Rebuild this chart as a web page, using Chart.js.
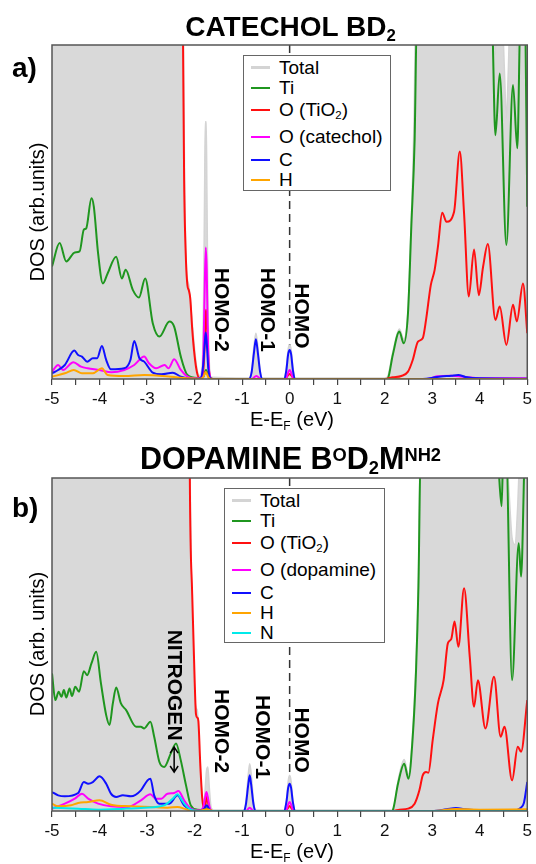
<!DOCTYPE html>
<html>
<head>
    <title>DOS catechol / dopamine</title>
    <script src="https://cdn.jsdelivr.net/npm/chart.js"></script>
    <style>
        body {
            margin: 0;
            background: #fff;
            font-family: 'Liberation Sans', Arial, sans-serif;
        }

        #page {
            position: relative;
            width: 536px;
            height: 864px;
            overflow: hidden;
        }

        .box {
            position: absolute;
            left: 0;
            width: 536px;
            height: 432px;
        }

        .txt {
            position: absolute;
            white-space: nowrap;
            color: #000;
        }

        .title {
            left: 52px;
            width: 477px;
            text-align: center;
            font-weight: bold;
        }

        .ytitle {
            font-size: 20px;
            line-height: 20px;
            transform: translate(-50%, -50%) rotate(-90deg);
        }

        .xtitle {
            left: 52px;
            width: 480px;
            text-align: center;
            font-size: 20px;
            line-height: 20px;
        }

        .legend {
            position: absolute;
            background: #fff;
            border: 1.5px solid #666;
            box-sizing: border-box;
        }

        .legend .row {
            position: absolute;
            left: 0;
            height: 20px;
            line-height: 20px;
            font-size: 19px;
            white-space: nowrap;
        }

        .legend .swatch {
            position: absolute;
            left: 7px;
            top: 9px;
            width: 19px;
            height: 2px;
        }

        .legend .lbl {
            position: absolute;
            left: 35px;
            top: 0;
        }

        .dn {
            position: relative;
            font-size: 0.6em;
            top: 0.3em;
        }

        .up {
            position: relative;
            font-size: 0.6em;
            top: -0.42em;
        }
    </style>
</head>
<body>
<div id="page">
    <div class="box" style="top:0"><canvas id="chartA" width="536" height="432"></canvas></div>
    <div class="box" style="top:432px"><canvas id="chartB" width="536" height="432"></canvas></div>

    <div class="txt title" style="top:13px;font-size:28px;line-height:28px">CATECHOL BD<span class="dn">2</span></div>
    <div class="txt title" style="top:443px;font-size:30.5px;line-height:30px">DOPAMINE B<span class="up">O</span>D<span class="dn">2</span>M<span class="up">NH2</span></div>

    <div class="txt" style="left:12px;top:54px;font-size:28px;line-height:28px;font-weight:bold">a)</div>
    <div class="txt" style="left:12px;top:494px;font-size:28px;line-height:28px;font-weight:bold">b)</div>

    <div class="txt ytitle" style="left:37px;top:212px">DOS (arb.units)</div>
    <div class="txt ytitle" style="left:37px;top:644px">DOS (arb. units)</div>

    <div class="txt xtitle" style="top:409px">E-E<span class="dn">F</span> (eV)</div>
    <div class="txt xtitle" style="top:841px">E-E<span class="dn">F</span> (eV)</div>

    <div class="legend" id="legA" style="left:243px;top:55px;width:148px;height:136px"></div>
    <div class="legend" id="legB" style="left:224px;top:488px;width:161px;height:155px"></div>
</div>
<script>
    const FONT = "'Liberation Sans', Arial, sans-serif";
    const GRAY = '#d9d9d9';
    const GREEN = '#1f961f';
    const RED = '#ff1010';
    const MAGENTA = '#ff00ff';
    const BLUE = '#1010ff';
    const ORANGE = '#ffa500';
    const CYAN = '#00eaea';

    const xTicks = [-5, -4, -3, -2, -1, 0, 1, 2, 3, 4, 5];

    // ---- a) catechol: [E-E_F (eV), DOS] ----
    const totalA = [[-5, 150], [-2.27, 150], [-2.24, 110], [-2.21, 60], [-2.17, 33], [-2.12, 28], [-2.08, 22],
        [-2.02, 12], [-1.96, 4], [-1.9, 1], [-1.84, 4], [-1.81, 25], [-1.79, 55], [-1.775, 77], [-1.755, 77],
        [-1.74, 55], [-1.72, 25], [-1.69, 5], [-1.65, 0.5], [-0.86, 0.3], [-0.8, 2.5], [-0.75, 10], [-0.71, 13.7],
        [-0.67, 10], [-0.62, 2.5], [-0.57, 0.3], [-0.12, 0.3], [-0.07, 3.5], [-0.03, 9], [0, 10.2], [0.03, 9],
        [0.07, 3.5], [0.12, 0.3], [2.02, 0.3], [2.07, 1], [2.17, 8], [2.31, 15], [2.4, 12], [2.49, 21], [2.56, 48],
        [2.62, 80], [2.66, 120], [4.25, 150], [4.3, 110], [4.33, 97], [4.37, 115], [4.47, 110], [4.52, 92],
        [4.56, 78], [4.6, 92], [4.66, 120], [4.75, 110], [4.79, 97], [4.83, 120], [5, 150]];
    const tiA = [[-5, 33.7], [-4.84, 40.7], [-4.7, 35.2], [-4.52, 37.9], [-4.42, 38.2], [-4.33, 44.7], [-4.28, 45.1],
        [-4.17, 54.1], [-4.12, 51.6], [-4.03, 37.6], [-3.93, 28.6], [-3.83, 31.6], [-3.65, 36.6], [-3.53, 30.1],
        [-3.45, 32.7], [-3.3, 26.7], [-3.17, 24.4], [-3.04, 30.1], [-2.88, 16.7], [-2.74, 12.7], [-2.53, 17.2],
        [-2.43, 15.7], [-2.29, 6.7], [-2.15, 1.2], [-1.94, 0.3], [-1.82, 0.5], [-1.76, 2.7], [-1.7, 0.5], [-1.6, 0],
        [2.05, 0], [2.07, 0.2], [2.17, 7.2], [2.31, 14.2], [2.4, 10.7], [2.49, 19.7], [2.56, 45.6], [2.63, 71.6],
        [2.68, 110], [4.25, 110], [4.33, 73], [4.42, 91.5], [4.56, 40.1], [4.7, 88], [4.79, 69.1], [4.86, 110],
        [4.95, 110], [4.98, 80], [5, 51.6]];
    const redA = [[-2.26, 130], [-2.245, 105], [-2.22, 60], [-2.18, 35], [-2.15, 28], [-2.12, 26.5], [-2.09, 24],
        [-2.05, 15], [-2, 7], [-1.95, 2], [-1.9, 0.3], [-1.84, 0.5], [-1.8, 6], [-1.77, 18], [-1.76, 20.7],
        [-1.74, 17], [-1.71, 5], [-1.67, 0.5], [-1.62, 0], [-0.1, 0], [-0.05, 0.8], [0, 1.5], [0.05, 0.8], [0.1, 0],
        [2, 0], [2.17, 0.5], [2.35, 0.9], [2.49, 2.2], [2.59, 5.7], [2.7, 11.2], [2.8, 12.2], [2.87, 17.7],
        [2.97, 28.1], [3.05, 32.6], [3.12, 39.6], [3.21, 49.8], [3.3, 47.1], [3.46, 50.1], [3.58, 68.1],
        [3.67, 49.6], [3.77, 24.7], [3.88, 38.8], [3.98, 25.1], [4.07, 33.6], [4.17, 40.4], [4.33, 17.7],
        [4.42, 21.7], [4.56, 10.2], [4.7, 22.2], [4.78, 17.2], [4.91, 28.6], [5, 13.7]];
    const catA = [[-5, 2.2], [-4.87, 4.2], [-4.77, 2.7], [-4.55, 5], [-4.39, 3.7], [-4.25, 3.2], [-4, 2.7],
        [-3.75, 2], [-3.48, 2.7], [-3.27, 4.2], [-3.06, 6.7], [-2.96, 4.7], [-2.81, 3.2], [-2.63, 4.2],
        [-2.55, 3.2], [-2.43, 5.9], [-2.29, 2.7], [-2.15, 0.7], [-2, 0.2], [-1.86, 0.5], [-1.82, 5], [-1.79, 25],
        [-1.765, 39.4], [-1.745, 33], [-1.72, 12], [-1.69, 2], [-1.64, 0], [-0.8, 0], [-0.7, 0.9], [-0.6, 0],
        [-0.08, 0], [-0.03, 2], [0, 2.7], [0.03, 2], [0.08, 0], [2.9, 0], [3.1, 0.8], [3.4, 1], [3.7, 0.6],
        [4, 0.2], [5, 0.2]];
    const carbonA = [[-5, 1.7], [-4.87, 2.7], [-4.73, 4.2], [-4.53, 8.5], [-4.45, 7.2], [-4.37, 6.7], [-4.26, 5.2],
        [-4.14, 6.2], [-4.05, 6.2], [-3.95, 9.9], [-3.86, 5.7], [-3.76, 2.9], [-3.48, 3.2], [-3.35, 5.7],
        [-3.27, 11.4], [-3.16, 6.2], [-3.06, 5.2], [-2.88, 1.9], [-2.7, 1.4], [-2.46, 1.9], [-2.29, 0.7], [-2, 0],
        [-1.87, 0.3], [-1.82, 4], [-1.785, 11], [-1.765, 13.9], [-1.745, 11], [-1.71, 3], [-1.67, 0.3], [-1.62, 0],
        [-0.86, 0], [-0.8, 2], [-0.75, 8], [-0.71, 11.9], [-0.67, 8], [-0.62, 2], [-0.57, 0], [-0.12, 0],
        [-0.07, 2.5], [-0.03, 7.5], [0, 8.7], [0.03, 7.5], [0.07, 2.5], [0.12, 0], [2.8, 0], [3.1, 0.6], [3.4, 1],
        [3.55, 1.2], [3.7, 0.6], [4, 0.2], [5, 0.1]];
    const hydroA = [[-5, 0.7], [-4.73, 1.7], [-4.54, 2.7], [-4.37, 1.7], [-4.14, 1.7], [-3.95, 3.2], [-3.83, 1.2],
        [-3.48, 0.9], [-3.06, 1.2], [-2.5, 0.7], [-2.15, 0.2], [-1.9, 0.1], [-1.82, 0.5], [-1.765, 2.2],
        [-1.71, 0.5], [-1.64, 0], [5, 0]];

    // ---- b) dopamine ----
    const totalB = [[-5, 150], [-2.13, 150], [-2.1, 110], [-2.06, 60], [-2, 35], [-1.97, 31], [-1.94, 30],
        [-1.9, 18], [-1.85, 6], [-1.81, 1.5], [-1.78, 6], [-1.75, 12], [-1.72, 13.2], [-1.69, 7], [-1.65, 1],
        [-1.6, 0.3], [-0.97, 0.3], [-0.92, 3], [-0.87, 11], [-0.84, 14.2], [-0.8, 10], [-0.76, 3], [-0.71, 0.3],
        [-0.12, 0.3], [-0.07, 3], [-0.03, 9], [0, 10.7], [0.03, 9], [0.07, 3], [0.12, 0.3], [2.15, 0.3],
        [2.2, 1.5], [2.28, 9], [2.41, 15.5], [2.5, 11], [2.59, 24], [2.66, 45], [2.71, 70], [2.76, 120],
        [4.38, 150], [4.42, 115], [4.46, 96], [4.5, 115], [4.56, 110], [4.62, 95], [4.68, 82], [4.74, 80],
        [4.8, 92], [4.86, 115], [5, 150]];
    const tiB = [[-5, 41.3], [-4.93, 33.3], [-4.86, 35.8], [-4.8, 34.3], [-4.75, 36.3], [-4.7, 34.1], [-4.63, 36.8],
        [-4.58, 34.5], [-4.51, 37.3], [-4.43, 35.8], [-4.33, 42], [-4.26, 40.8], [-4.17, 44.3], [-4.07, 47.8],
        [-3.97, 38.3], [-3.86, 28.8], [-3.79, 25.8], [-3.72, 32.3], [-3.65, 37.1], [-3.55, 32.3], [-3.44, 30.3],
        [-3.23, 25.3], [-3.13, 25.3], [-3.06, 24.8], [-2.93, 26.8], [-2.85, 22.3], [-2.74, 14.7], [-2.64, 13.2],
        [-2.5, 17.3], [-2.39, 20.3], [-2.29, 15.2], [-2.18, 7.7], [-2.08, 1.7], [-1.94, 0.4], [-1.8, 0.3],
        [-1.74, 0.8], [-1.68, 0.2], [-1.6, 0], [2.15, 0], [2.17, 0.2], [2.28, 8.2], [2.41, 14.2], [2.5, 9.7],
        [2.59, 22.3], [2.66, 42.3], [2.71, 67.4], [2.76, 110], [4.38, 110], [4.41, 100], [4.46, 91.5],
        [4.5, 110], [4.55, 110], [4.68, 39.3], [4.82, 80.4], [4.87, 70.4], [4.96, 110], [5, 110]];
    const redB = [[-2.11, 130], [-2.1, 100], [-2.05, 65], [-2, 40], [-1.97, 29], [-1.94, 28], [-1.92, 27],
        [-1.88, 14], [-1.84, 4], [-1.8, 0.4], [-1.77, 2], [-1.74, 4.5], [-1.71, 2], [-1.67, 0.2], [-1.6, 0],
        [-0.1, 0], [-0.04, 0.8], [0, 1.5], [0.04, 0.8], [0.1, 0], [2.17, 0], [2.31, 0.4], [2.49, 0.7], [2.63, 2.2],
        [2.73, 6.2], [2.8, 10.7], [2.87, 11.7], [2.92, 11.5], [3.01, 21.3], [3.12, 32.3], [3.24, 39.3],
        [3.33, 50.4], [3.4, 51.6], [3.47, 56.9], [3.55, 49.3], [3.67, 66.9], [3.79, 46.3], [3.88, 31.3],
        [3.96, 39.3], [4.12, 24.8], [4.3, 40.3], [4.44, 22.3], [4.52, 25.3], [4.68, 9.2], [4.8, 19.3],
        [4.87, 17.8], [5, 33.3]];
    const dopB = [[-5, 0.7], [-4.73, 2.2], [-4.52, 3.7], [-4.37, 5.2], [-4.24, 3.7], [-4.03, 2.2], [-3.76, 1.4],
        [-3.41, 1.2], [-3.13, 3.2], [-2.93, 5], [-2.81, 3.7], [-2.7, 3.7], [-2.57, 5.2], [-2.43, 5.4], [-2.34, 6],
        [-2.22, 3.2], [-2.08, 0.7], [-1.9, 0.2], [-1.82, 1], [-1.78, 4], [-1.75, 5.7], [-1.72, 4], [-1.68, 1],
        [-1.63, 0], [-0.92, 0], [-0.84, 1], [-0.76, 0], [-0.08, 0], [-0.03, 2], [0, 2.7], [0.03, 2], [0.08, 0],
        [5, 0]];
    const carbonB = [[-5, 5.7], [-4.87, 4.7], [-4.73, 4.4], [-4.45, 5.4], [-4.33, 8.7], [-4.24, 8.2], [-4.14, 8.7],
        [-4, 10.4], [-3.86, 8.2], [-3.76, 5.2], [-3.65, 4.2], [-3.51, 4.7], [-3.34, 4.4], [-3.13, 6.2],
        [-2.99, 9.2], [-2.93, 9.7], [-2.85, 4.7], [-2.74, 2.2], [-2.53, 2.2], [-2.36, 4.7], [-2.22, 1.7],
        [-2.08, 0.4], [-1.9, 0.1], [-1.8, 0.6], [-1.745, 1.7], [-1.69, 0.5], [-1.63, 0], [-0.96, 0], [-0.92, 2],
        [-0.87, 8], [-0.84, 10.7], [-0.81, 8], [-0.76, 2], [-0.72, 0], [-0.12, 0], [-0.07, 2.5], [-0.03, 7],
        [0, 8.2], [0.03, 7], [0.07, 2.5], [0.12, 0], [3, 0], [3.3, 0.5], [3.5, 0.9], [3.7, 0.5], [4, 0.2],
        [4.75, 0.2], [4.85, 0.8], [4.93, 2.5], [5, 8.7]];
    const hydroB = [[-5, 2.2], [-4.87, 1.4], [-4.6, 1.7], [-4.45, 2.4], [-4.24, 2.7], [-4, 3.2], [-3.76, 1.9],
        [-3.34, 1.4], [-2.93, 1.2], [-2.57, 1], [-2.36, 1.2], [-2.15, 0.4], [-1.9, 0.1], [-1.74, 0.5], [-1.6, 0],
        [3, 0], [3.5, 0.6], [4, 0.4], [5, 0.5]];
    const nitroB = [[-5, 1], [-4.45, 0.7], [-4.03, 0.4], [-3.48, 0.7], [-3.06, 1], [-2.64, 1.7], [-2.46, 3.7],
        [-2.36, 5], [-2.29, 3.8], [-2.22, 2.2], [-2.08, 0.4], [-1.9, 0], [5, 0]];

    const legendA = ['Total', 'Ti', 'O (TiO<span class="dn">2</span>)', 'O (catechol)', 'C', 'H'];
    const legendB = ['Total', 'Ti', 'O (TiO<span class="dn">2</span>)', 'O (dopamine)', 'C', 'H', 'N'];
    const legendColors = ['#d4d4d4', GREEN, RED, MAGENTA, BLUE, ORANGE, CYAN];
    const legendRowY = [12, 32, 54, 81, 103.5, 123.5, 143.5];

    function toXY(pairs) {
        return pairs.map(p => ({x: p[0], y: p[1]}));
    }

    function line(label, pairs, color, order) {
        return {label: label, data: toXY(pairs), borderColor: color, backgroundColor: color,
            borderWidth: 2, fill: false, order: order};
    }

    function total(pairs) {
        return {label: 'Total', data: toXY(pairs), borderColor: '#d4d4d4', backgroundColor: GRAY,
            borderWidth: 1.5, fill: 'origin', order: 20};
    }

    // dashed E_F line, rotated labels, arrow, frame
    const dosMarks = {
        id: 'dosMarks',
        beforeDatasetsDraw(chart) {
            const {ctx, chartArea: a, scales: {x}} = chart;
            const px = x.getPixelForValue(0);
            ctx.save();
            ctx.strokeStyle = '#333';
            ctx.lineWidth = 1.5;
            ctx.setLineDash([8, 5]);
            ctx.beginPath();
            ctx.moveTo(px, a.top);
            ctx.lineTo(px, a.bottom);
            ctx.stroke();
            ctx.restore();
        },
        afterDatasetsDraw(chart, args, opts) {
            const {ctx, scales: {x, y}} = chart;
            ctx.save();
            ctx.fillStyle = '#000';
            ctx.font = 'bold 21px ' + FONT;
            ctx.textAlign = 'center';
            ctx.textBaseline = 'middle';
            (opts.labels || []).forEach(l => {
                ctx.save();
                ctx.translate(x.getPixelForValue(l.e), y.getPixelForValue(l.v));
                ctx.rotate(Math.PI / 2);
                ctx.fillText(l.text, 0, 0);
                ctx.restore();
            });
            if (opts.arrow) {
                const ax = x.getPixelForValue(opts.arrow.e);
                const y1 = y.getPixelForValue(opts.arrow.from);
                const y2 = y.getPixelForValue(opts.arrow.to);
                ctx.strokeStyle = '#000';
                ctx.lineWidth = 1.5;
                ctx.beginPath();
                ctx.moveTo(ax, y1);
                ctx.lineTo(ax, y2);
                ctx.moveTo(ax - 4, y1 + 6);
                ctx.lineTo(ax, y1);
                ctx.lineTo(ax + 4, y1 + 6);
                ctx.moveTo(ax - 4, y2 - 6);
                ctx.lineTo(ax, y2);
                ctx.lineTo(ax + 4, y2 - 6);
                ctx.stroke();
            }
            ctx.restore();
        },
        afterDraw(chart) {
            const {ctx, chartArea: a} = chart;
            ctx.save();
            ctx.strokeStyle = '#555';
            ctx.lineWidth = 1.5;
            ctx.strokeRect(a.left, a.top, a.right - a.left, a.bottom - a.top);
            ctx.restore();
        }
    };

    function makeChart(id, datasets, padTop, marks) {
        return new Chart(document.getElementById(id).getContext('2d'), {
            type: 'line',
            data: {datasets: datasets},
            plugins: [dosMarks],
            options: {
                responsive: false,
                animation: false,
                layout: {padding: {top: padTop, left: 52, right: 7, bottom: 0}},
                elements: {
                    point: {radius: 0},
                    line: {cubicInterpolationMode: 'monotone'}
                },
                plugins: {
                    legend: {display: false},
                    tooltip: {enabled: false},
                    dosMarks: marks
                },
                scales: {
                    x: {
                        type: 'linear',
                        min: -5,
                        max: 5,
                        afterFit: s => { s.height = 53; },
                        border: {display: false},
                        grid: {drawOnChartArea: false, tickLength: 6, color: '#444', lineWidth: 1.2},
                        ticks: {
                            stepSize: 0.5,
                            autoSkip: false,
                            maxRotation: 0,
                            padding: 4,
                            color: '#111',
                            font: {family: FONT, size: 17},
                            callback: v => xTicks.includes(v) ? String(v) : ''
                        }
                    },
                    y: {display: false, min: 0, max: 100}
                }
            }
        });
    }

    function buildLegend(id, names) {
        const box = document.getElementById(id);
        names.forEach((name, i) => {
            const row = document.createElement('div');
            row.className = 'row';
            row.style.top = (legendRowY[i] - 10) + 'px';
            const sw = document.createElement('span');
            sw.className = 'swatch';
            sw.style.background = legendColors[i];
            if (i === 0) { sw.style.height = '3px'; sw.style.top = '8px'; }
            const lbl = document.createElement('span');
            lbl.className = 'lbl';
            lbl.innerHTML = name;
            row.appendChild(sw);
            row.appendChild(lbl);
            box.appendChild(row);
        });
    }

    makeChart('chartA', [
        total(totalA),
        line('Ti', tiA, GREEN, 6),
        line('O (TiO2)', redA, RED, 5),
        line('O (catechol)', catA, MAGENTA, 4),
        line('C', carbonA, BLUE, 3),
        line('H', hydroA, ORANGE, 2)
    ], 45, {
        labels: [
            {text: 'HOMO-2', e: -1.44, v: 20.7},
            {text: 'HOMO-1', e: -0.48, v: 20.7},
            {text: 'HOMO', e: 0.24, v: 18.9}
        ]
    });

    makeChart('chartB', [
        total(totalB),
        line('Ti', tiB, GREEN, 7),
        line('O (TiO2)', redB, RED, 6),
        line('O (dopamine)', dopB, MAGENTA, 5),
        line('C', carbonB, BLUE, 4),
        line('H', hydroB, ORANGE, 3),
        line('N', nitroB, CYAN, 2)
    ], 46, {
        labels: [
            {text: 'NITROGEN', e: -2.43, v: 37.8},
            {text: 'HOMO-2', e: -1.44, v: 24.0},
            {text: 'HOMO-1', e: -0.58, v: 22.2},
            {text: 'HOMO', e: 0.24, v: 21.3}
        ],
        arrow: {e: -2.43, from: 19.2, to: 11.7}
    });

    buildLegend('legA', legendA);
    buildLegend('legB', legendB);
</script>
</body>
</html>
